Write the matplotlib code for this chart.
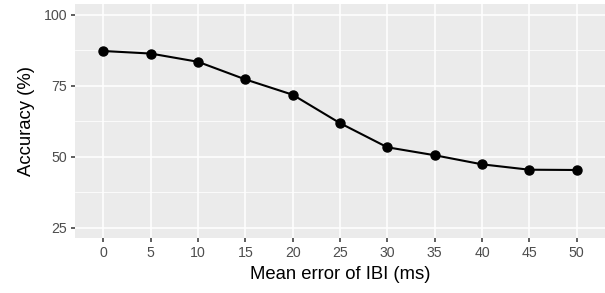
import numpy as np
import matplotlib.pyplot as plt

# mean error of IBI (ms) vs accuracy (%)
errors = [0, 5, 10, 15, 20, 25, 30, 35, 40, 45, 50]
accuracy = [87.2, 86.3, 83.4, 77.2, 71.8, 61.8, 53.3, 50.5, 47.3, 45.4, 45.3]

plt.rcParams['font.family'] = ['Liberation Sans', 'DejaVu Sans']

fig = plt.figure(figsize=(6.05, 2.93), dpi=100)
ax = fig.add_axes([75 / 605, 1 - 238.3 / 293, 530 / 605, 234.3 / 293])

ax.set_facecolor('#EBEBEB')
for s in ax.spines.values():
    s.set_visible(False)

# discrete x scale, like ggplot
pos = np.arange(len(errors))
ax.set_xlim(-0.6, len(errors) - 0.4)
ax.set_ylim(21.25, 103.75)

ax.set_xticks(pos)
ax.set_xticklabels([str(e) for e in errors])
ax.set_yticks([25, 50, 75, 100])
ax.set_yticks([37.5, 62.5, 87.5], minor=True)

ax.grid(True, which='major', color='white', linewidth=1.1)
ax.grid(True, which='minor', axis='y', color='white', linewidth=0.55)
ax.set_axisbelow(True)

ax.tick_params(which='major', length=3.2, width=1.1, color='#333333',
               labelcolor='#4D4D4D', labelsize=10.2, pad=2.5)
ax.tick_params(which='minor', length=0)

ax.plot(pos, accuracy, color='black', linewidth=1.5, marker='o',
        markersize=6.5, zorder=3)

ax.set_xlabel('Mean error of IBI (ms)', fontsize=13.3, labelpad=4)
ax.set_ylabel('Accuracy (%)', fontsize=13.3, labelpad=6)

fig.savefig('out.png', dpi=100)
